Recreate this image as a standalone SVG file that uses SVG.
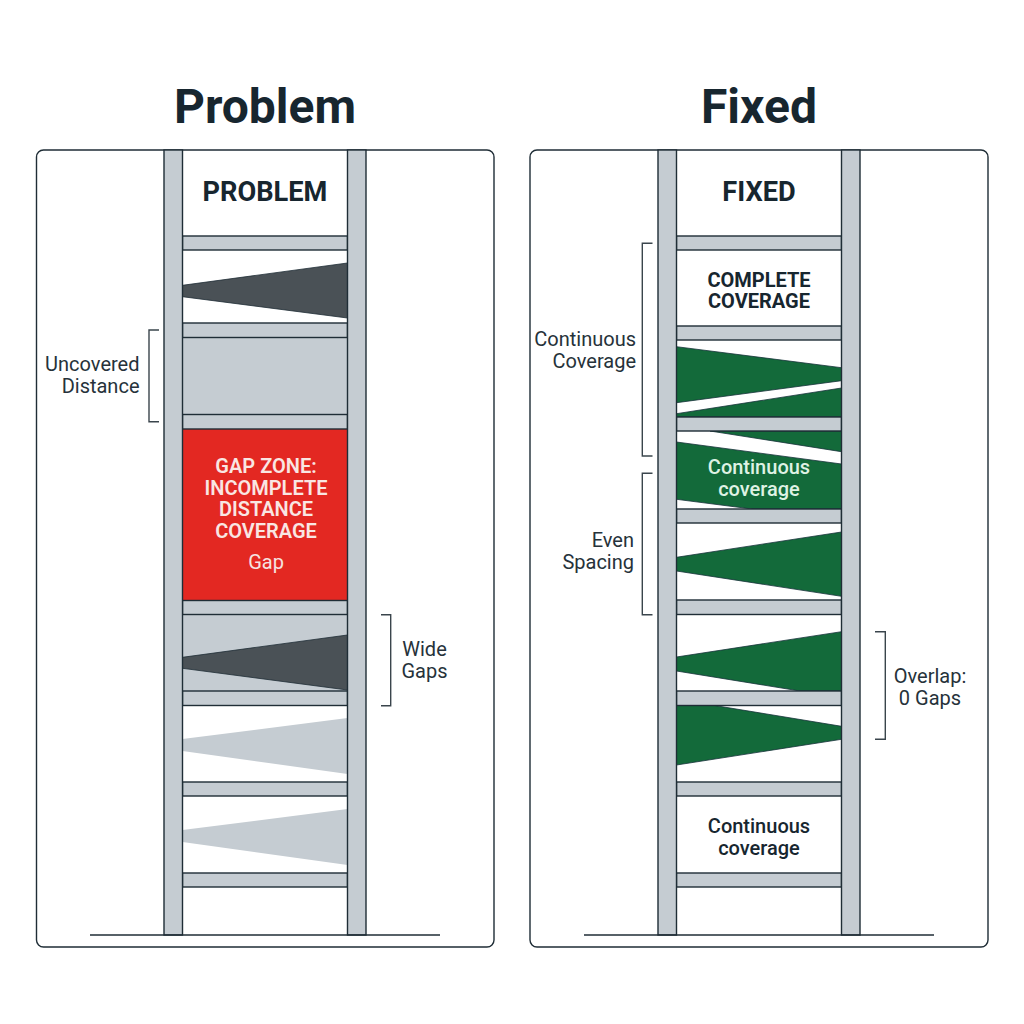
<svg xmlns="http://www.w3.org/2000/svg" width="1024" height="1024" viewBox="0 0 1024 1024">
<style>
text{font-family:Roboto,"Liberation Sans",sans-serif;fill:#17262f}
.title{font-size:48px;font-weight:700;text-anchor:middle}
.head{font-size:27.2px;font-weight:700;text-anchor:middle}
.bold{font-size:20px;font-weight:700;text-anchor:middle}
.redt{font-size:20px;font-weight:600;text-anchor:middle;fill:#f9e6e3}
.semi{font-size:20px;font-weight:500;text-anchor:middle}
.lab{font-size:20px;fill:#26323a}
.end{text-anchor:end}
.mid{text-anchor:middle}
.light{fill:#f6e3e0;text-anchor:middle;font-size:20px}
.lg{fill:#dff2e4;text-anchor:middle;font-size:20px;font-weight:500}
.panel{fill:#fff;stroke:#1f2d36;stroke-width:1.4}
.rail,.rung{fill:#c5ccd2;stroke:#1f2d36;stroke-width:1.4}
.zone{fill:#c5ccd2}
.dark{fill:#4a5156;stroke:#1f2d36;stroke-width:.8}
.ghost{fill:#c5ccd2}
.green{fill:#136a3a;stroke:#17323a;stroke-width:.8}
.brk{fill:none;stroke:#3a454c;stroke-width:1.4}
.base{stroke:#1f2d36;stroke-width:1.4}
</style>
<rect width="1024" height="1024" fill="#fff"/>

<g id="title-problem"><text class="title" x="265" y="123">Problem</text></g>
<g id="title-fixed"><text class="title" x="759" y="123">Fixed</text></g>

<g id="panel-problem">
<rect class="panel" x="36.5" y="150" width="457.5" height="797" rx="7"/>
<rect class="zone" x="182.5" y="337.5" width="165" height="77"/>
<rect class="zone" x="182.5" y="614.5" width="165" height="76.5"/>
<rect x="182.5" y="429" width="165" height="171.5" fill="#e32822"/>
<polygon class="dark" points="182.5,285.3 347.5,263 347.5,318 182.5,296.7"/>
<polygon class="dark" points="182.5,657.3 347.5,635 347.5,690 182.5,668.3"/>
<polygon class="ghost" points="182.5,739 347.5,718 347.5,774 182.5,751"/>
<polygon class="ghost" points="182.5,830 347.5,809 347.5,865 182.5,842"/>
<rect class="rung" x="182.5" y="236" width="165" height="14"/>
<rect class="rung" x="182.5" y="323" width="165" height="14.5"/>
<rect class="rung" x="182.5" y="414.5" width="165" height="14.5"/>
<rect class="rung" x="182.5" y="600.5" width="165" height="14"/>
<rect class="rung" x="182.5" y="691" width="165" height="14.5"/>
<rect class="rung" x="182.5" y="782" width="165" height="14"/>
<rect class="rung" x="182.5" y="873" width="165" height="14"/>
<rect class="rail" x="164" y="150" width="18.5" height="785"/>
<rect class="rail" x="347.5" y="150" width="18.5" height="785"/>
<line class="base" x1="90" y1="935" x2="440" y2="935"/>
<text class="head" x="265" y="201">PROBLEM</text>
<text class="redt" x="266" y="473">GAP ZONE:</text>
<text class="redt" x="266" y="495">INCOMPLETE</text>
<text class="redt" x="266" y="516">DISTANCE</text>
<text class="redt" x="266" y="538">COVERAGE</text>
<text class="light" x="266" y="569">Gap</text>
</g>

<g id="panel-fixed">
<rect class="panel" x="530" y="150" width="458" height="797" rx="7"/>
<polygon class="green" points="676.5,346.7 841.5,367.7 841.5,380.7 676.5,402.7"/>
<polygon class="green" points="676.5,413.7 841.5,388 841.5,417 676.5,417"/>
<polygon class="green" points="710,431 841.5,431 841.5,451.7"/>
<polygon class="green" points="676.5,442 841.5,464 841.5,509 752,509 676.5,499.3"/>
<polygon class="green" points="676.5,557.3 841.5,532 841.5,596.3 676.5,571"/>
<polygon class="green" points="676.5,657 841.5,631.7 841.5,691 800,691 676.5,671"/>
<polygon class="green" points="676.5,705 711.7,705 841.5,726.3 841.5,739.3 676.5,765"/>
<rect class="rung" x="676.5" y="236" width="165" height="14"/>
<rect class="rung" x="676.5" y="326" width="165" height="14"/>
<rect class="rung" x="676.5" y="417" width="165" height="14"/>
<rect class="rung" x="676.5" y="509" width="165" height="14"/>
<rect class="rung" x="676.5" y="600" width="165" height="14.5"/>
<rect class="rung" x="676.5" y="691" width="165" height="14.5"/>
<rect class="rung" x="676.5" y="782" width="165" height="14"/>
<rect class="rung" x="676.5" y="873" width="165" height="14"/>
<rect class="rail" x="658" y="150" width="18.5" height="785"/>
<rect class="rail" x="841.5" y="150" width="18.5" height="785"/>
<line class="base" x1="584" y1="935" x2="934" y2="935"/>
<text class="head" x="759" y="201">FIXED</text>
<text class="bold" x="759" y="287">COMPLETE</text>
<text class="bold" x="759" y="308">COVERAGE</text>
<text class="lg" x="759" y="474">Continuous</text>
<text class="lg" x="759" y="496">coverage</text>
<text class="semi" x="759" y="833">Continuous</text>
<text class="semi" x="759" y="855">coverage</text>
</g>

<g id="connectors">
<path class="brk" d="M159 330H149V421.7H159"/>
<path class="brk" d="M381 614.7H390.7V705.7H381"/>
<path class="brk" d="M652.5 243.3H642.3V456H652.5"/>
<path class="brk" d="M652.5 473.3H642.3V614.7H652.5"/>
<path class="brk" d="M875 631.7H885.3V739.3H875"/>
</g>

<g id="label-uncovered"><text class="lab end" x="139.5" y="371">Uncovered</text><text class="lab end" x="139.5" y="393">Distance</text></g>
<g id="label-wide"><text class="lab mid" x="424.5" y="656">Wide</text><text class="lab mid" x="424.5" y="678">Gaps</text></g>
<g id="label-continuous"><text class="lab end" x="636" y="346">Continuous</text><text class="lab end" x="636" y="368">Coverage</text></g>
<g id="label-even"><text class="lab end" x="634" y="547">Even</text><text class="lab end" x="634" y="569">Spacing</text></g>
<g id="label-overlap"><text class="lab mid" x="930" y="683">Overlap:</text><text class="lab mid" x="930" y="705">0 Gaps</text></g>
</svg>
